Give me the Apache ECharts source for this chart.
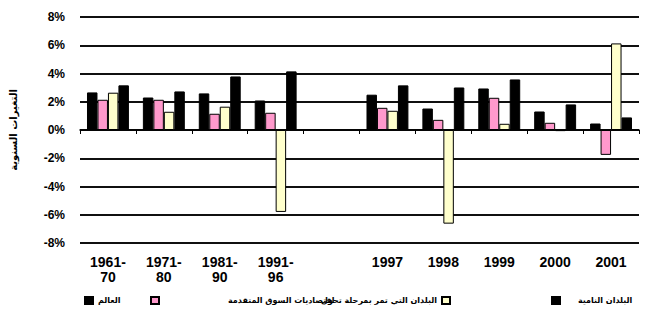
<!DOCTYPE html>
<html><head><meta charset="utf-8">
<script src="https://cdn.jsdelivr.net/npm/echarts@6/dist/echarts.min.js"></script>
<style>html,body{margin:0;padding:0;background:#fff}#c{width:654px;height:324px}</style>
</head><body><div id="c"></div>
<script>
const categories = ['1961-\n70','1971-\n80','1981-\n90','1991-\n96','','1997','1998','1999','2000','2001'];
const seriesNames = ['العالم','اقتصاديات السوق المتقدمة','البلدان التي تمر بمرحلة تحول','البلدان النامية'];
const world      = [2.66, 2.30, 2.59, 2.09, null, 2.50, 1.52, 2.94, 1.31, 0.46];
const advanced   = [2.14, 2.14, 1.15, 1.22, null, 1.57, 0.72, 2.28, 0.51, -1.76];
const transition = [2.64, 1.29, 1.65, -5.80, null, 1.36, -6.63, 0.44, -0.08, 6.13];
const developing = [3.16, 2.73, 3.79, 4.15, null, 3.16, 3.01, 3.58, 1.81, 0.89];
const yTicks = [-8, -6, -4, -2, 0, 2, 4, 6, 8];
const yTitle = 'التغيرات السنوية';

const colors = ['#000000','#FF99CC','#FFFFCC','#000000'];
const values = [world, advanced, transition, developing];
const font = 'Arial, "Liberation Sans", sans-serif';
const arFont = '"DejaVu Sans", sans-serif';

const chart = echarts.init(document.getElementById('c'), null, {renderer:'svg'});
const series = values.map((v,i)=>({
  name: seriesNames[i], type:'bar', data:v, xAxisIndex:0, z: 3,
  barGap:'0%', barCategoryGap:'25%',
  itemStyle:{color:colors[i], borderColor:'#000', borderWidth:1}
}));
series[0].markLine = {
  silent:true, symbol:['none','none'], animation:false, z:1,
  label:{show:false}, emphasis:{disabled:true},
  lineStyle:{color:'#000', width:1.5, type:'solid'},
  data: yTicks.map(t=>({yAxis:t}))
};
const legTxt = {fontFamily:arFont, fontSize:8, fontWeight:'bold', color:'#000'};
function legend(name, opts){
  return Object.assign({
    data:[name], top:291, itemWidth:8, itemHeight:7, icon:'rect', selectedMode:false,
    textStyle:legTxt
  }, opts);
}
chart.setOption({
  animation:false,
  grid:{left:78, right:15, top:17, bottom:81},
  xAxis:[
    {type:'category', data:categories, position:'bottom',
     axisLine:{show:false, onZero:false}, axisTick:{show:false},
     axisLabel:{interval:0, color:'#000', fontFamily:font, fontSize:14, fontWeight:'bold', lineHeight:15, margin:11}},
    {type:'category', data:categories, position:'top',
     axisLine:{show:true, onZero:true, lineStyle:{color:'#000', width:1.5}},
     axisTick:{show:true, length:4, inside:true, interval:0, lineStyle:{color:'#000', width:1}},
     axisLabel:{show:false}, splitLine:{show:false}}
  ],
  yAxis:{type:'value', min:-8, max:8, interval:2,
    name:yTitle, nameLocation:'middle', nameRotate:90, nameGap:62,
    nameTextStyle:{fontFamily:arFont, fontSize:10, fontWeight:'bold', color:'#000'},
    axisLine:{show:false}, axisTick:{show:true, length:0},
    splitLine:{show:true, lineStyle:{color:'#000', width:1.5, type:'solid'}},
    axisLabel:{margin:15, fontFamily:font, fontSize:12, fontWeight:'bold', color:'#000', formatter:'{value}%'}
  },
  legend:[
    legend(seriesNames[0], {left:79}),
    legend(seriesNames[1], {left:145, textStyle:Object.assign({}, legTxt, {padding:[0,0,0,64]})}),
    legend(seriesNames[2], {right:198, align:'right'}),
    legend(seriesNames[3], {left:546, textStyle:Object.assign({}, legTxt, {padding:[0,0,0,13]})})
  ],
  series:series
});
</script></body></html>
